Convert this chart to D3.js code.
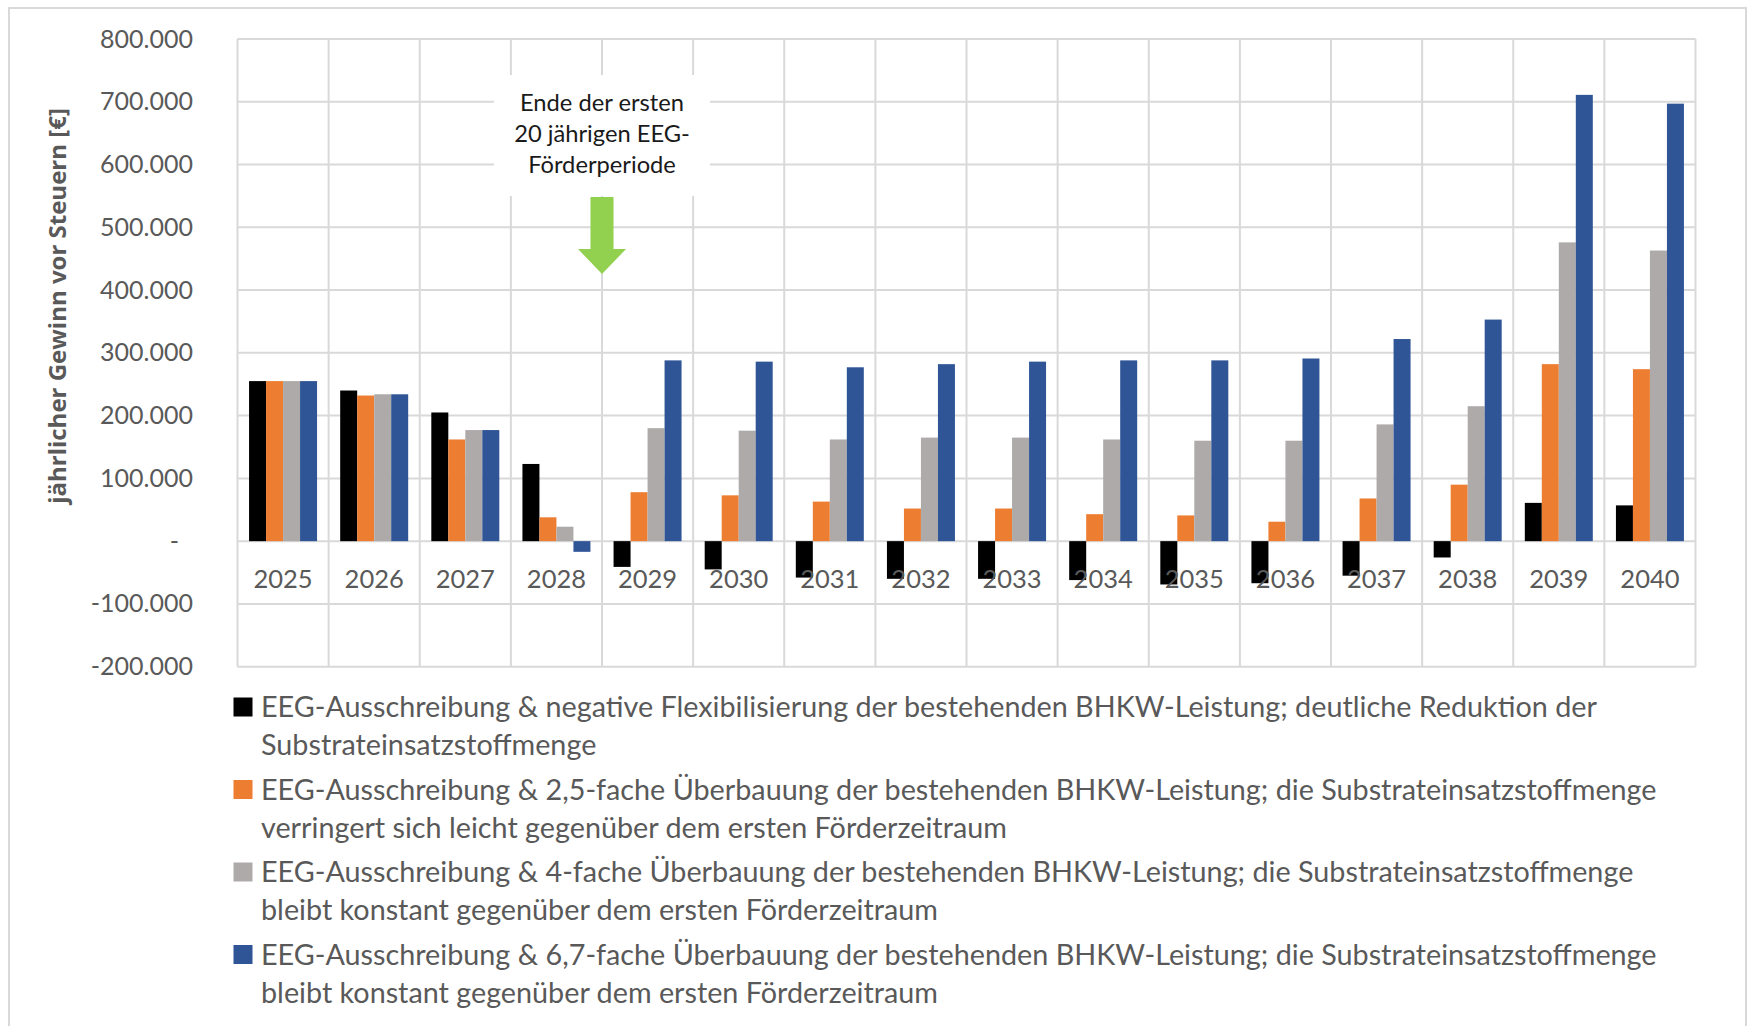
<!DOCTYPE html>
<html>
<head>
<meta charset="utf-8">
<script src="https://cdn.jsdelivr.net/npm/d3@7"></script>
<style>
body { margin: 0; background: #fff; }
svg text { font-family: Lato, "Open Sans", sans-serif; }
</style>
</head>
<body>
<div id="chart"></div>
<script>
var svgWidth = 1748, svgHeight = 1026;
var margin = { top: 39, right: 52.5, bottom: 359.3, left: 237.5 };
var width = svgWidth - margin.left - margin.right;
var height = svgHeight - margin.top - margin.bottom;

// data
var years = ["2025", "2026", "2027", "2028", "2029", "2030", "2031", "2032",
             "2033", "2034", "2035", "2036", "2037", "2038", "2039", "2040"];
var negFlex = [255000, 240000, 205000, 123000, -41000, -45000, -58000, -60000,
               -60000, -62000, -69000, -67000, -55000, -26000, 61000, 57000];
var ueber25 = [255000, 232000, 162000, 38000, 78000, 73000, 63000, 52000,
               52000, 43000, 41000, 31000, 68000, 90000, 282000, 274000];
var ueber4 = [255000, 234000, 177000, 23000, 180000, 176000, 162000, 165000,
              165000, 162000, 160000, 160000, 186000, 215000, 476000, 463000];
var ueber67 = [255000, 234000, 177000, -17000, 288000, 286000, 277000, 282000,
               286000, 288000, 288000, 291000, 322000, 353000, 711000, 697000];
var yTicks = [-200000, -100000, 0, 100000, 200000, 300000, 400000, 500000, 600000, 700000, 800000];
var seriesLabels = [
  ["EEG-Ausschreibung & negative Flexibilisierung der bestehenden BHKW-Leistung; deutliche Reduktion der",
   "Substrateinsatzstoffmenge"],
  ["EEG-Ausschreibung & 2,5-fache Überbauung der bestehenden BHKW-Leistung; die Substrateinsatzstoffmenge",
   "verringert sich leicht gegenüber dem ersten Förderzeitraum"],
  ["EEG-Ausschreibung & 4-fache Überbauung der bestehenden BHKW-Leistung; die Substrateinsatzstoffmenge",
   "bleibt konstant gegenüber dem ersten Förderzeitraum"],
  ["EEG-Ausschreibung & 6,7-fache Überbauung der bestehenden BHKW-Leistung; die Substrateinsatzstoffmenge",
   "bleibt konstant gegenüber dem ersten Förderzeitraum"]
];
var annotationLines = ["Ende der ersten", "20 jährigen EEG-", "Förderperiode"];
var annotationYear = "2029";

var series = [negFlex, ueber25, ueber4, ueber67];
var colors = ["#000000", "#ED7D31", "#AEAAAA", "#2F5597"];
var gridColor = "#d9d9d9", textColor = "#595959";

var root = d3.select("#chart").append("svg")
    .attr("width", svgWidth)
    .attr("height", svgHeight);

// outer chart border
root.append("rect")
    .attr("x", 9).attr("y", 8)
    .attr("width", 1737).attr("height", 1100)
    .attr("fill", "none")
    .attr("stroke", gridColor)
    .attr("stroke-width", 2);

var svg = root.append("g")
    .attr("transform", "translate(" + margin.left + "," + margin.top + ")");

// scales
var x0 = d3.scaleBand().domain(years).range([0, width]).padding(0);
var x1 = d3.scaleBand().domain(d3.range(series.length))
    .range([0, x0.bandwidth()]).paddingInner(0).paddingOuter(0.68);
var y = d3.scaleLinear().domain([-200000, 800000]).range([height, 0]);

var locale = d3.formatLocale({ decimal: ",", thousands: ".", grouping: [3], currency: ["", "€"], minus: "-" });
var fmt = locale.format(",d");

function fitWidth(sel, target) {
  var w = sel.node().getComputedTextLength();
  var fs = parseFloat(sel.style("font-size"));
  return fs * target / w;
}

// gridlines
svg.append("g").selectAll("line.h")
    .data(yTicks).enter().append("line")
    .attr("x1", 0).attr("x2", width)
    .attr("y1", function(d) { return y(d); })
    .attr("y2", function(d) { return y(d); })
    .attr("stroke", gridColor).attr("stroke-width", 2);

var bounds = years.map(function(d) { return x0(d); }).concat([width]);
svg.append("g").selectAll("line.v")
    .data(bounds).enter().append("line")
    .attr("x1", function(d) { return d; }).attr("x2", function(d) { return d; })
    .attr("y1", 0).attr("y2", height)
    .attr("stroke", gridColor).attr("stroke-width", 2);

// y axis labels
var yAxis = svg.append("g")
    .call(d3.axisLeft(y).tickValues(yTicks).tickSize(0).tickPadding(44.5)
      .tickFormat(function(d) { return d === 0 ? "-" : fmt(d); }));
yAxis.select(".domain").remove();
yAxis.selectAll(".tick text")
    .attr("fill", textColor)
    .style("font-size", "25px")
    .attr("dx", function(d) { return d === 0 ? -14 : 0; });

// bars
var groups = svg.selectAll(".year")
    .data(years).enter().append("g")
    .attr("class", "year")
    .attr("transform", function(d) { return "translate(" + x0(d) + ",0)"; });

groups.selectAll("rect")
    .data(function(d, i) { return series.map(function(s, k) { return { k: k, v: s[i] }; }); })
    .enter().append("rect")
    .attr("x", function(d) { return x1(d.k); })
    .attr("width", x1.bandwidth())
    .attr("y", function(d) { return y(Math.max(0, d.v)); })
    .attr("height", function(d) { return Math.abs(y(d.v) - y(0)); })
    .attr("fill", function(d) { return colors[d.k]; });

// category labels
svg.append("g").selectAll("text.cat")
    .data(years).enter().append("text")
    .attr("x", function(d) { return x0(d) + x0.bandwidth() / 2; })
    .attr("y", y(0) + 38)
    .attr("dy", "0.35em")
    .attr("text-anchor", "middle")
    .attr("fill", textColor)
    .style("font-size", "25.5px")
    .text(function(d) { return d; });

// y axis title
var yTitle = root.append("text")
    .attr("transform", "translate(58," + 306 + ") rotate(-90)")
    .attr("text-anchor", "middle")
    .attr("dy", "0.35em")
    .attr("fill", textColor)
    .style("font-weight", "bold")
    .style("font-family", "'Open Sans', sans-serif")
    .style("font-size", "20px")
    .text("jährlicher Gewinn vor Steuern [€]");
yTitle.style("font-size", fitWidth(yTitle, 396) + "px");

// annotation box + arrow
var ax = margin.left + x0(annotationYear);
root.append("rect")
    .attr("x", ax - 108).attr("y", 75)
    .attr("width", 216).attr("height", 121)
    .attr("fill", "#fff");
var ann = root.append("g").selectAll("text")
    .data(annotationLines).enter().append("text")
    .attr("x", ax)
    .attr("y", function(d, i) { return 103 + i * 31; })
    .attr("dy", "0.35em")
    .attr("text-anchor", "middle")
    .attr("fill", "#1a1a1a")
    .style("font-size", "23px")
    .text(function(d) { return d; });
var annFs = fitWidth(d3.select(ann.nodes()[0]), 164);
ann.style("font-size", annFs + "px");

root.append("path")
    .attr("d", "M" + (ax - 11.5) + ",197 L" + (ax + 11.5) + ",197 L" + (ax + 11.5) + ",249 L" +
      (ax + 24) + ",249 L" + ax + ",274 L" + (ax - 24) + ",249 L" + (ax - 11.5) + ",249 Z")
    .attr("fill", "#92D050");

// legend
var legend = root.append("g");
var entries = legend.selectAll("g")
    .data(seriesLabels).enter().append("g")
    .attr("transform", function(d, i) { return "translate(0," + (707 + i * 82.5) + ")"; });
entries.append("rect")
    .attr("x", 233.5).attr("y", -9.5)
    .attr("width", 19).attr("height", 19)
    .attr("fill", function(d, i) { return colors[i]; });
var legText = entries.selectAll("text")
    .data(function(d) { return d; }).enter().append("text")
    .attr("x", 261)
    .attr("y", function(d, j) { return j * 38; })
    .attr("dy", "0.35em")
    .attr("fill", textColor)
    .style("font-size", "27px")
    .text(function(d) { return d; });
var legFs = fitWidth(d3.select(legText.nodes()[2]), 1396);
legText.style("font-size", legFs + "px");
</script>
</body>
</html>
